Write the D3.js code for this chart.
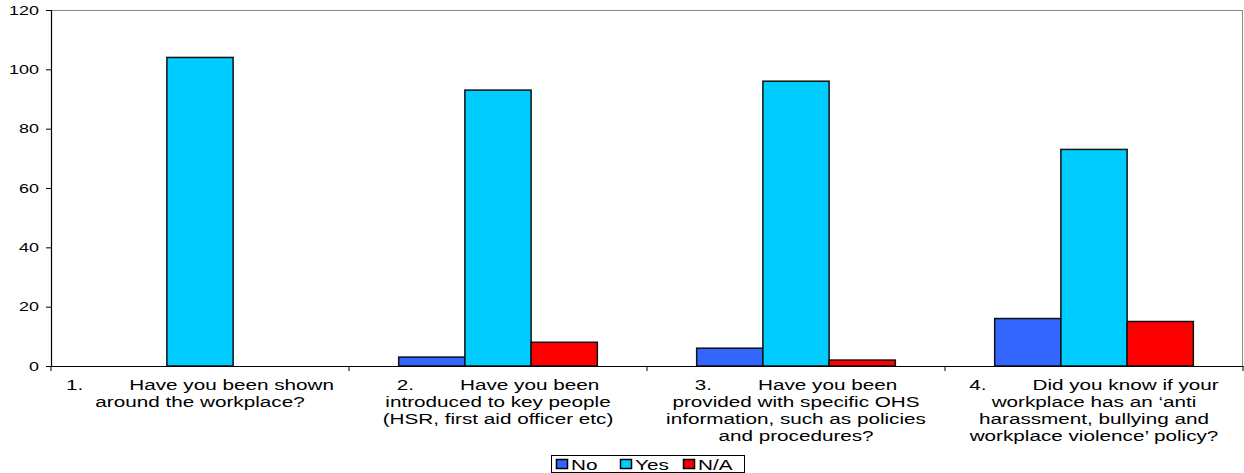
<!DOCTYPE html>
<html>
<head>
<meta charset="utf-8">
<script src="https://cdn.jsdelivr.net/npm/d3@7"></script>
<style>
  html, body { margin: 0; padding: 0; background: #fff; }
  svg { display: block; font-family: "Liberation Sans", Arial, sans-serif; }
</style>
</head>
<body>
<svg id="chart" width="1244" height="473"></svg>
<script>
const categories = ["q1", "q2", "q3", "q4"];
const categoryLines = [
  ["1.        Have you been shown", "around the workplace?"],
  ["2.        Have you been", "introduced to key people", "(HSR, first aid officer etc)"],
  ["3.        Have you been", "provided with specific OHS", "information, such as policies", "and procedures?"],
  ["4.        Did you know if your", "workplace has an \u2018anti", "harassment, bullying and", "workplace violence\u2019 policy?"]
];
const seriesNames = ["No", "Yes", "N/A"];
const noValues = [0, 3, 6, 16];
const yesValues = [104, 93, 96, 73];
const naValues = [0, 8, 2, 15];
const yTicks = [0, 20, 40, 60, 80, 100, 120];
const colors = ["#3366FF", "#00CCFF", "#FF0000"];

const seriesValues = [noValues, yesValues, naValues];
const SX = 1.38; // horizontal stretch of the reference's text

const svg = d3.select("#chart");
const mLeft = 51, mRight = 1243, mTop = 10, mBottom = 366;

const x = d3.scaleBand().domain(categories).range([mLeft, mRight]).paddingInner(0).paddingOuter(0);
const y = d3.scaleLinear().domain([0, 120]).range([mBottom, mTop]);
const inner = d3.scaleBand().domain(seriesNames)
  .range([0, x.bandwidth()]).paddingInner(0).paddingOuter(0.75);

// top and right frame lines (grey)
svg.append("line").attr("x1", mLeft).attr("x2", mRight).attr("y1", mTop + 0.5).attr("y2", mTop + 0.5)
  .attr("stroke", "#888").attr("stroke-width", 1);
svg.append("line").attr("x1", mRight - 0.5).attr("x2", mRight - 0.5).attr("y1", mTop).attr("y2", mBottom)
  .attr("stroke", "#888").attr("stroke-width", 1);

// bars
categories.forEach((c, ci) => {
  seriesNames.forEach((s, si) => {
    const v = seriesValues[si][ci];
    if (v <= 0) return;
    svg.append("rect")
      .attr("x", x(c) + inner(s))
      .attr("y", y(v))
      .attr("width", inner.bandwidth())
      .attr("height", y(0) - y(v))
      .attr("fill", colors[si])
      .attr("stroke", "#111")
      .attr("stroke-width", 1.5);
  });
});

// y axis
const yAxis = d3.axisLeft(y).tickValues(yTicks).tickSize(5).tickPadding(0).tickFormat(() => "");
const gy = svg.append("g").attr("transform", `translate(${mLeft},0)`).call(yAxis);
gy.select(".domain").attr("stroke", "#000").attr("stroke-width", 1.2);
gy.selectAll(".tick line").attr("stroke", "#000");
yTicks.forEach(v => {
  svg.append("text")
    .attr("transform", `translate(${mLeft - 12},${y(v) + 4.5}) scale(${SX},1)`)
    .attr("text-anchor", "end")
    .attr("font-size", 13)
    .attr("fill", "#000")
    .text(v);
});

// x axis
const xAxis = d3.axisBottom(x).tickValues([]).tickSizeOuter(0);
const gx = svg.append("g").attr("transform", `translate(0,${mBottom})`).call(xAxis);
gx.select(".domain").attr("stroke", "#000").attr("stroke-width", 1.2);
const boundaries = categories.map(c => x(c)).concat([mRight]);
gx.selectAll("line.sep").data(boundaries).enter().append("line")
  .attr("class", "sep")
  .attr("x1", d => d).attr("x2", d => d).attr("y1", 0).attr("y2", 5)
  .attr("stroke", "#000");

// category labels
categories.forEach((c, ci) => {
  const cx = x(c) + x.bandwidth() / 2;
  categoryLines[ci].forEach((ln, li) => {
    svg.append("text")
      .attr("transform", `translate(${cx},${390 + li * 17}) scale(${SX},1)`)
      .attr("text-anchor", "middle")
      .attr("font-size", 15)
      .attr("fill", "#000")
      .style("white-space", "pre")
      .text(ln);
  });
});

// legend
const lg = svg.append("g");
lg.append("rect").attr("x", 551.5).attr("y", 455.5).attr("width", 193).attr("height", 17)
  .attr("fill", "#fff").attr("stroke", "#000").attr("stroke-width", 1);
const legendX = [556, 620, 683];
seriesNames.forEach((s, i) => {
  lg.append("rect").attr("x", legendX[i] + 0.5).attr("y", 459.5).attr("width", 11).attr("height", 9)
    .attr("fill", colors[i]).attr("stroke", "#000").attr("stroke-width", 1.5);
  lg.append("text")
    .attr("transform", `translate(${legendX[i] + 15},469.5) scale(${SX},1)`)
    .attr("font-size", 15)
    .attr("fill", "#000").text(s);
});
</script>
</body>
</html>
